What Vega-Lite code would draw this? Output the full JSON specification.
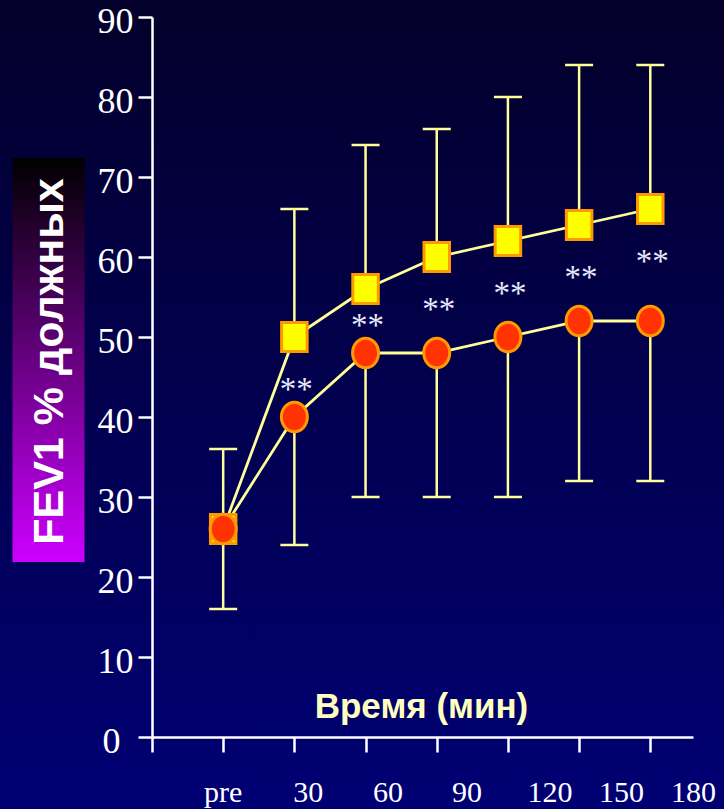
{
  "$schema": "https://vega.github.io/schema/vega-lite/v6.json",
  "width": 541,
  "height": 720,
  "autosize": {"type": "none"},
  "padding": {"left": 152, "top": 17, "right": 31, "bottom": 72},
  "background": "#010048",
  "config": {"view": {"stroke": null}},
  "datasets": {
    "points": [
      {"time": "pre", "pos": 1, "group": "squares", "fev": 26, "bar": 36},
      {"time": "30", "pos": 2, "group": "squares", "fev": 50, "bar": 66},
      {"time": "60", "pos": 3, "group": "squares", "fev": 56, "bar": 74},
      {"time": "90", "pos": 4, "group": "squares", "fev": 60, "bar": 76},
      {"time": "120", "pos": 5, "group": "squares", "fev": 62, "bar": 80},
      {"time": "150", "pos": 6, "group": "squares", "fev": 64, "bar": 84},
      {"time": "180", "pos": 7, "group": "squares", "fev": 66, "bar": 84},
      {"time": "pre", "pos": 1, "group": "circles", "fev": 26, "bar": 16},
      {"time": "30", "pos": 2, "group": "circles", "fev": 40, "bar": 24},
      {"time": "60", "pos": 3, "group": "circles", "fev": 48, "bar": 30},
      {"time": "90", "pos": 4, "group": "circles", "fev": 48, "bar": 30},
      {"time": "120", "pos": 5, "group": "circles", "fev": 50, "bar": 30},
      {"time": "150", "pos": 6, "group": "circles", "fev": 52, "bar": 32},
      {"time": "180", "pos": 7, "group": "circles", "fev": 52, "bar": 32}
    ],
    "stars": [
      {"pos": 2, "fev": 44, "mark": "**"},
      {"pos": 3, "fev": 52, "mark": "**"},
      {"pos": 4, "fev": 54, "mark": "**"},
      {"pos": 5, "fev": 56, "mark": "**"},
      {"pos": 6, "fev": 58, "mark": "**"},
      {"pos": 7, "fev": 60, "mark": "**"}
    ],
    "labels": [
      {"label": "pre", "pos": 1.0},
      {"label": "30", "pos": 2.194},
      {"label": "60", "pos": 3.317},
      {"label": "90", "pos": 4.425},
      {"label": "120", "pos": 5.59},
      {"label": "150", "pos": 6.596},
      {"label": "180", "pos": 7.607}
    ]
  },
  "layer": [
    {
      "data": {"values": [{}]},
      "mark": {
        "type": "rect",
        "fill": {
          "gradient": "linear", "x1": 0, "y1": 0, "x2": 0, "y2": 1,
          "stops": [{"offset": 0, "color": "#03002a"}, {"offset": 1, "color": "#000074"}]
        }
      },
      "encoding": {
        "x": {
          "datum": -2.3, "type": "quantitative",
          "scale": {"domain": [0, 7.6], "nice": false, "zero": false},
          "axis": {
            "values": [0, 1, 2, 3, 4, 5, 6, 7],
            "labels": false,
            "grid": false,
            "tickSize": 15, "tickWidth": 2.5, "tickColor": "#ffffff",
            "domainColor": "#ffffff", "domainWidth": 2.5,
            "title": "Время (мин)",
            "titleFont": "Liberation Sans", "titleFontWeight": "bold", "titleFontSize": 35,
            "titleColor": "#ffffc0", "titleX": 269, "titleY": -20,
            "titleAlign": "center", "titleBaseline": "alphabetic",
            "zindex": 1
          }
        },
        "x2": {"datum": 8.2},
        "y": {
          "datum": -9.5, "type": "quantitative",
          "scale": {"domain": [0, 90], "nice": false, "zero": false},
          "axis": {
            "values": [0, 10, 20, 30, 40, 50, 60, 70, 80, 90],
            "grid": false,
            "tickSize": 14, "tickWidth": 2.5, "tickColor": "#ffffff",
            "domainColor": "#ffffff", "domainWidth": 2.5,
            "labelFont": "Liberation Serif", "labelFontSize": 36, "labelColor": "#ffffff",
            "labelPadding": {"condition": {"test": "datum.value === 0", "value": 18}, "value": 5},
            "labelOffset": 4,
            "title": "FEV1 % должных",
            "titleFont": "Liberation Sans", "titleFontWeight": "bold", "titleFontSize": 43,
            "titleColor": "#ffffff", "titleAngle": -90, "titleX": -90, "titleY": 344,
            "titleAlign": "center", "titleBaseline": "alphabetic",
            "zindex": 1
          }
        },
        "y2": {"datum": 92.5}
      }
    },
    {
      "data": {"values": [{}]},
      "mark": {
        "type": "rect",
        "fill": {
          "gradient": "linear", "x1": 0, "y1": 0, "x2": 0, "y2": 1,
          "stops": [{"offset": 0, "color": "#000000"}, {"offset": 1, "color": "#cc00ff"}]
        }
      },
      "encoding": {
        "x": {"datum": -1.96, "type": "quantitative"},
        "x2": {"datum": -0.948},
        "y": {"datum": 72.375, "type": "quantitative"},
        "y2": {"datum": 21.875}
      }
    },
    {
      "data": {"name": "points"},
      "mark": {"type": "rule", "color": "#ffff99", "strokeWidth": 2.5},
      "encoding": {
        "x": {"field": "pos", "type": "quantitative"},
        "y": {"field": "fev", "type": "quantitative"},
        "y2": {"field": "bar"}
      }
    },
    {
      "data": {"name": "points"},
      "mark": {"type": "tick", "orient": "horizontal", "color": "#ffff99", "size": 28, "thickness": 2.5, "opacity": 1},
      "encoding": {
        "x": {"field": "pos", "type": "quantitative"},
        "y": {"field": "bar", "type": "quantitative"}
      }
    },
    {
      "data": {"name": "points"},
      "mark": {"type": "line", "color": "#ffff99", "strokeWidth": 2.8},
      "encoding": {
        "x": {"field": "pos", "type": "quantitative"},
        "y": {"field": "fev", "type": "quantitative"},
        "detail": {"field": "group"}
      }
    },
    {
      "data": {"name": "points"},
      "transform": [{"filter": "datum.group === 'squares'"}],
      "mark": {"type": "point", "shape": "M-0.88,-1H0.88V1H-0.88Z", "size": 841, "filled": true, "fill": "#ffff00", "stroke": "#ff9900", "strokeWidth": 3, "opacity": 1},
      "encoding": {
        "x": {"field": "pos", "type": "quantitative"},
        "y": {"field": "fev", "type": "quantitative"}
      }
    },
    {
      "data": {"name": "points"},
      "transform": [{"filter": "datum.group === 'circles'"}],
      "mark": {"type": "point", "shape": "M-0.88,0A0.88,1,0,1,1,0.88,0A0.88,1,0,1,1,-0.88,0Z", "size": 870, "filled": true, "fill": "#ff3300", "stroke": "#ff9900", "strokeWidth": 3, "opacity": 1},
      "encoding": {
        "x": {"field": "pos", "type": "quantitative"},
        "y": {"field": "fev", "type": "quantitative"}
      }
    },
    {
      "data": {"name": "stars"},
      "mark": {"type": "text", "font": "Liberation Serif", "fontSize": 33, "color": "#e8e8ff", "align": "center", "baseline": "alphabetic", "dx": 2, "dy": 15},
      "encoding": {
        "x": {"field": "pos", "type": "quantitative"},
        "y": {"field": "fev", "type": "quantitative"},
        "text": {"field": "mark"}
      }
    },
    {
      "data": {"name": "labels"},
      "mark": {"type": "text", "font": "Liberation Serif", "fontSize": 30, "color": "#ffffff", "align": "center", "baseline": "alphabetic"},
      "encoding": {
        "x": {"field": "pos", "type": "quantitative"},
        "y": {"datum": -8.1, "type": "quantitative"},
        "text": {"field": "label"}
      }
    }
  ]
}
